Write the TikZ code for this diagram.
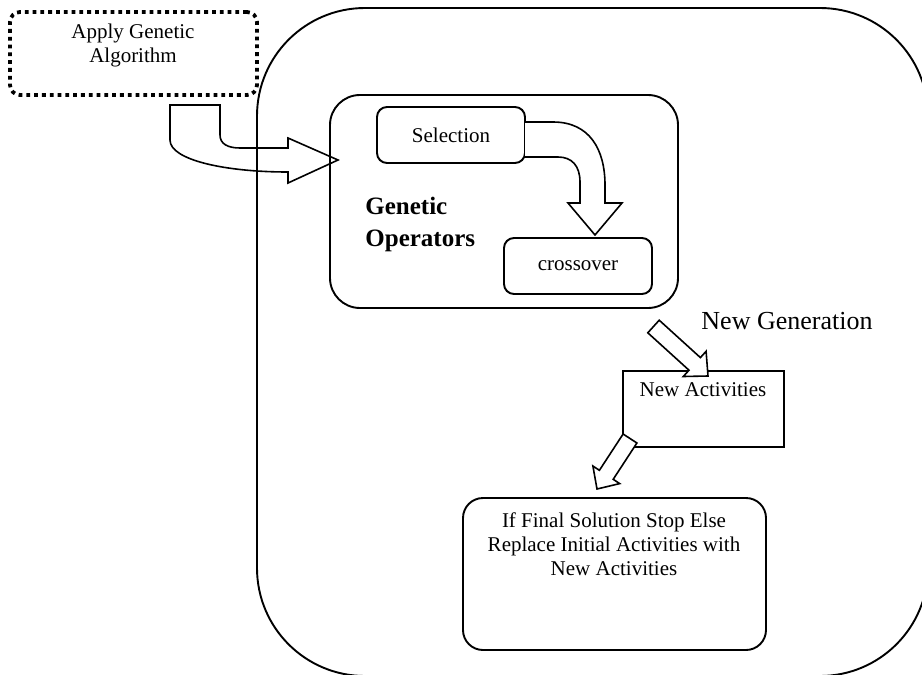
\documentclass[tikz,border=0pt]{standalone}
\usepackage{fontspec}
\setmainfont{Liberation Serif}
\begin{document}
\begin{tikzpicture}[x=0.5pt,y=-0.5pt,
  box/.style={draw, line width=0.95pt, inner sep=0pt},
  txt/.style={font=\fontsize{10.5}{12}\selectfont, align=center, inner sep=0pt},
  blockarrow/.style={draw, line width=0.8pt, line join=miter},
  dashbox/.style={draw, line width=1.9pt, dash pattern=on 1.9pt off 2pt, rounded corners=5pt, inner sep=0pt}
]
\useasboundingbox (0,0) rectangle (922,675);
\begin{scope}
\clip (0,0) rectangle (922,675);
% outer container
\node[box, rounded corners=54pt, minimum width=335.5pt, minimum height=334pt] (outer) at (592.5,342) {};
\end{scope}

% Apply Genetic Algorithm
\node[dashbox, minimum width=123.5pt, minimum height=41.5pt] (ga) at (133.5,53.5) {};
\node[txt] (gatext) at (133,45) {Apply Genetic\\Algorithm};

% Genetic operators box
\node[box, rounded corners=15pt, minimum width=174pt, minimum height=106.5pt] (go) at (504,201.5) {};
\node[box, rounded corners=5pt, minimum width=74pt, minimum height=28pt, txt] (sel) at (451,135) {Selection};
\node[box, rounded corners=5pt, minimum width=74pt, minimum height=28pt, txt] (cross) at (578,266) {crossover};
\node[font=\fontsize{12.5}{16}\selectfont\bfseries, align=left, anchor=west, inner sep=0pt] (gotext) at (365,224) {Genetic\\Operators};

% New generation
\node[font=\fontsize{13}{15}\selectfont, inner sep=0pt] (newgen) at (787,321) {New Generation};
\node[box, minimum width=80.5pt, minimum height=38pt] (na) at (703.5,409) {};
\node[txt] (natext) at (703,390) {New Activities};

% Final box
\node[box, rounded corners=10pt, minimum width=151.5pt, minimum height=76pt] (fin) at (614.5,574) {};
\node[txt] (fintext) at (614,544) {If Final Solution Stop Else\\Replace Initial Activities with\\New Activities};

% entry arrow (from ga into go)
\draw[blockarrow] (170,105) -- (220,105) -- (220,135) .. controls (220,144) and (228,148) .. (240,148)
  -- (288,148) -- (288,138) -- (338,160) -- (288,183) -- (288,172)
  .. controls (225,172) and (170,160) .. (170,140) -- cycle;

% selection -> crossover curved arrow
\draw[blockarrow, fill=white] (525,122) -- (553,122) .. controls (590,122) and (605,150) .. (605,185)
  -- (605,203) -- (622,203) -- (595,235) -- (568,203) -- (580,203) -- (580,182)
  .. controls (580,166) and (572,157) .. (558,157) -- (525,157);

% new generation arrow
\draw[blockarrow, fill=white] (659.2,320.2) -- (700.4,357.6) -- (706.1,351.3) -- (708,376)
  -- (683.3,376.5) -- (689.0,370.2) -- (647.8,332.8) -- cycle;

% new activities -> final arrow
\draw[blockarrow, fill=white] (623.1,434) -- (599.4,470.3) -- (592.9,466) -- (597,489)
  -- (619.7,483.6) -- (613.2,479.3) -- (636.9,443) -- cycle;
\end{tikzpicture}
\end{document}
